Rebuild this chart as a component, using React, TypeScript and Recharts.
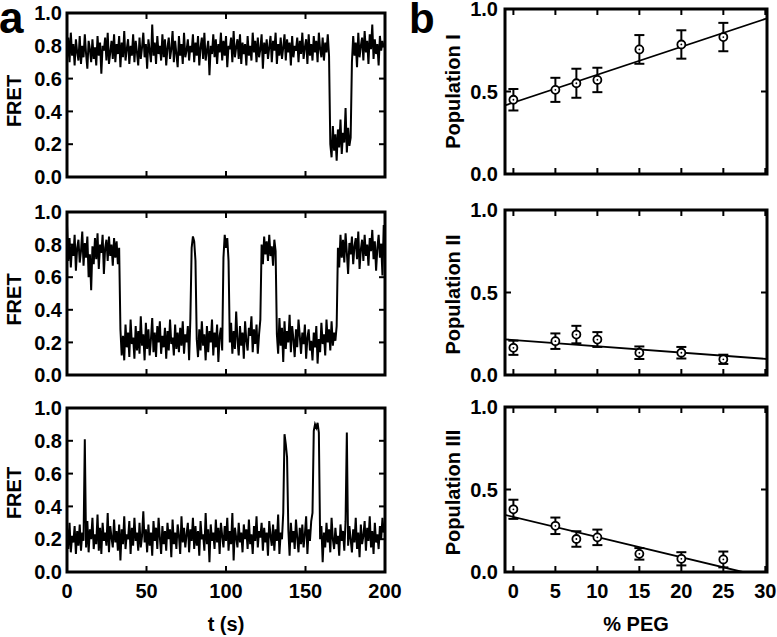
import React from 'react';
import { ComposedChart, Line, Scatter, XAxis, YAxis, ErrorBar, ReferenceArea } from 'recharts';

// ---------- data ----------
const TIME_STEP_S = 0.8; // sampling interval of the FRET traces
// FRET values x100
const TRACE_1 = [
  72, 85, 70, 88, 74, 81, 68, 84, 76, 71, 86, 69, 80, 73, 87, 75, 66, 83, 78, 70,
  84, 72, 79, 68, 86, 74, 82, 63, 80, 77, 85, 71, 88, 69, 76, 83, 72, 87, 70, 81,
  75, 86, 67, 82, 73, 89, 71, 78, 84, 69, 80, 74, 87, 70, 83, 76, 68, 85, 72, 79,
  88, 73, 81, 66, 84, 77, 70, 93, 74, 82, 69, 86, 75, 80, 71, 87, 73, 84, 68, 79,
  85, 72, 78, 89, 70, 83, 75, 67, 86, 74, 81, 69, 88, 73, 77, 84, 71, 80, 76, 87,
  70, 82, 74, 86, 68, 79, 85, 72, 88, 71, 77, 83, 62, 80, 75, 87, 73, 84, 69, 81,
  76, 88, 71, 83, 74, 86, 67, 80, 78, 85, 70, 89, 73, 79, 84, 72, 87, 69, 82, 75,
  81, 68, 86, 74, 80, 71, 88, 76, 83, 70, 85, 73, 78, 87, 66, 82, 75, 84, 72, 79,
  86, 70, 83, 77, 88, 69, 81, 74, 85, 72, 79, 87, 71, 84, 76, 82, 68, 86, 73, 80,
  77, 85, 70, 83, 75, 88, 72, 79, 84, 69, 87, 74, 81, 71, 86, 76, 83, 70, 88, 78,
  73, 85, 71, 82, 76, 87, 74,
  20, 12, 31, 16, 26, 10, 29, 18, 35, 14, 27, 21, 42, 15, 30, 19, 24,
  70, 86, 74, 82, 67, 88, 73, 80, 85, 71, 89, 76, 83, 69, 87, 78, 93, 72, 84, 75,
  81, 68, 86, 77, 83, 79,
];
const TRACE_2 = [
  92, 70, 84, 66, 80, 73, 86, 64, 78, 83, 69, 76, 88, 67, 81, 72, 85, 60, 74, 52,
  79, 68, 84, 71, 87, 65, 80, 75, 86, 62, 78, 83, 70, 85, 73, 80, 67, 84, 72, 82,
  68, 78,
  28, 12, 24, 9, 31, 17, 26, 11, 34, 19, 23, 10, 30, 15, 27, 13, 36, 18, 25, 9,
  32, 16, 28, 12, 22, 35, 14, 26, 11, 30, 20, 33, 13, 24, 17, 29, 10, 27, 15, 34,
  19, 23, 12, 31, 16, 26, 14, 29, 18, 33, 13, 25, 20, 30, 9, 35,
  78, 85, 82, 70,
  22, 11, 28, 15, 33, 18, 25, 9, 30, 14, 27, 20, 34, 12, 26, 17, 31, 8, 24, 29, 15,
  72, 86, 78, 84, 70,
  20, 32, 13, 27, 16, 39, 22, 12, 30, 18, 26, 10, 33, 21, 15, 29, 24, 36, 14, 28,
  19, 31, 13, 25, 34,
  80, 68, 85, 74, 82, 70, 86, 73, 79, 67, 83, 76,
  25, 13, 35, 18, 29, 8, 33, 16, 27, 20, 37, 14, 30, 22, 11, 28, 17, 34, 24, 13,
  26, 19, 31, 10, 23, 28, 15, 21, 9, 26, 17, 30, 7, 22, 14, 32, 19, 25, 12, 34,
  20, 28, 15, 33, 18, 26, 21, 30,
  78, 66, 86, 72, 83, 69, 87, 75, 62, 81, 74, 85, 68, 79, 84, 71, 88, 65, 77, 83,
  70, 86, 73, 80, 67, 84, 76, 89, 71, 82, 64, 78, 86, 72, 80, 61, 92,
];
const TRACE_3 = [
  27, 14, 30, 12, 22, 18, 28, 11, 25, 16, 29, 13, 24, 19, 81, 15, 31, 12, 26, 20,
  33, 14, 23, 17, 35, 13, 27, 11, 30, 19, 24, 16, 36, 12, 28, 21, 15, 32, 18, 25,
  13, 29, 7, 26, 17, 34, 14, 23, 20, 31, 11, 27, 16, 33, 19, 24, 13, 30, 15, 22,
  37, 18, 26, 12, 29, 16, 24, 10, 31, 19, 27, 14, 33, 21, 11, 28, 17, 25, 13, 30,
  20, 26, 9, 32, 17, 24, 14, 29, 22, 11, 34, 18, 27, 15, 23, 30, 12, 26, 19, 33,
  14, 28, 16, 25, 10, 31, 20, 23, 13, 36, 17, 26, 6, 29, 19, 24, 14, 32, 18, 27,
  11, 30, 22, 15, 28, 19, 33, 13, 25, 17, 36, 7, 27, 21, 15, 30, 18, 24, 12, 29,
  20, 26, 14, 32, 17, 23, 11, 28, 19, 34, 15, 25, 21, 30, 13, 27, 18, 24, 10, 31,
  22, 16, 29, 13, 26, 19, 35, 11, 24, 20, 36, 84, 78, 70, 26, 10, 30, 18, 25, 14,
  32, 21, 12, 27, 17, 29, 15, 23, 34, 11, 26, 19, 31, 36, 86, 90, 88, 91, 85, 20,
  28, 6, 24, 15, 30, 18, 26, 12, 33, 20, 14, 27, 17, 22, 10, 29, 19, 25, 13, 31,
  85, 16, 28, 20, 12, 26, 18, 33, 14, 24, 9, 29, 17, 22, 31, 13, 27, 19, 34, 15,
  25, 11, 30, 18, 23, 14, 28, 20, 33, 24,
];

const TIME_TICKS = [0, 50, 100, 150, 200];
const FRET_TICKS = [0, 0.2, 0.4, 0.6, 0.8, 1.0];
const PEG_TICKS = [0, 5, 10, 15, 20, 25, 30];
const POP_TICKS = [0, 0.5, 1.0];

const PEG = [0, 5, 7.5, 10, 15, 20, 25];
const POP_I = [0.45, 0.51, 0.55, 0.57, 0.755, 0.785, 0.83];
const ERR_I = [0.065, 0.073, 0.088, 0.074, 0.087, 0.086, 0.086];
const POP_II = [0.165, 0.205, 0.245, 0.215, 0.135, 0.135, 0.095];
const ERR_II = [0.043, 0.047, 0.053, 0.045, 0.038, 0.035, 0.028];
const POP_III = [0.38, 0.28, 0.2, 0.21, 0.11, 0.08, 0.076];
const ERR_III = [0.058, 0.05, 0.047, 0.047, 0.035, 0.04, 0.048];

// linear fit endpoints [x, y]
const FIT_I = [[-1, 0.416], [30.2, 0.943]];
const FIT_II = [[-1, 0.216], [30.2, 0.097]];
const FIT_III = [[-1, 0.346], [27.3, 0.0]];

// ---------- helpers ----------
const FONT_FAMILY = '"Liberation Sans", Arial, Helvetica, sans-serif';
const FONT: React.CSSProperties = { fontFamily: FONT_FAMILY, fontWeight: 700, fontSize: 20, fill: '#000' };
const MT = 16; // top margin
const MR = 24; // right margin
const TICK = 6;

const toTrace = (arr: number[]) => arr.map((v, i) => ({ x: +(i * TIME_STEP_S).toFixed(1), y: v / 100 }));
const toPoints = (ys: number[], es: number[]) => PEG.map((x, i) => ({ x, y: ys[i], e: es[i] }));
const toFit = (f: number[][]) => f.map(([x, y]) => ({ x, y }));

const Marker = (p: any) => (
  <g>
    <circle cx={p.cx} cy={p.cy} r={4} fill="#fff" stroke="#000" strokeWidth={1.8} />
    <circle cx={p.cx} cy={p.cy} r={0.9} fill="#000" />
  </g>
);

type PanelProps = {
  plotLeft: number; plotTop: number; plotW: number; plotH: number;
  yAxisW: number; xAxisH: number;
  xDomain: [number, number]; xTicks: number[]; yTicks: number[];
  showXLabels: boolean; labelGap: number;
  yTitle: string; yTitleX: number; yTitleDy: number;
  xTitle?: string;
  xFmt: (v: number) => string; yFmt: (v: number) => string;
  children: React.ReactNode;
};

function Panel(props: PanelProps) {
  const { plotLeft, plotTop, plotW, plotH, yAxisW, xAxisH, xDomain, xTicks, yTicks,
    showXLabels, labelGap, yTitle, yTitleX, yTitleDy, xTitle, xFmt, yFmt, children } = props;
  const width = yAxisW + plotW + MR;
  const height = MT + plotH + xAxisH;

  const yTick = (p: any) => {
    const { x, y, payload } = p;
    return (
      <g>
        <line x1={x} x2={x + TICK} y1={y} y2={y} stroke="#000" strokeWidth={2} />
        <line x1={x + plotW} x2={x + plotW - TICK} y1={y} y2={y} stroke="#000" strokeWidth={2} />
        <text x={x - labelGap} y={y} dy="0.36em" textAnchor="end" style={FONT}>{yFmt(payload.value)}</text>
      </g>
    );
  };
  const xTick = (p: any) => {
    const { x, y, payload } = p;
    return (
      <g>
        <line x1={x} x2={x} y1={y} y2={y - TICK} stroke="#000" strokeWidth={2} />
        <line x1={x} x2={x} y1={y - plotH} y2={y - plotH + TICK} stroke="#000" strokeWidth={2} />
        {showXLabels && (
          <text x={x} y={y + 26} textAnchor="middle" style={FONT}>{xFmt(payload.value)}</text>
        )}
      </g>
    );
  };
  const yLabel = (p: any) => {
    const vb = p.viewBox || { x: 0, y: MT, width: yAxisW, height: plotH };
    const cx = vb.x + yTitleX;
    const cy = vb.y + vb.height / 2 + yTitleDy;
    return (
      <text x={cx} y={cy} transform={`rotate(-90, ${cx}, ${cy})`} textAnchor="middle" dy="0.36em" style={FONT}>
        {yTitle}
      </text>
    );
  };
  const xLabel = (p: any) => {
    const vb = p.viewBox || { x: yAxisW, y: MT + plotH, width: plotW, height: xAxisH };
    return (
      <text x={vb.x + vb.width / 2} y={vb.y + 59} textAnchor="middle" style={FONT}>{xTitle}</text>
    );
  };

  return (
    <div style={{ position: 'absolute', left: plotLeft - yAxisW, top: plotTop - MT }}>
      <ComposedChart width={width} height={height} margin={{ top: MT, right: MR, bottom: 0, left: 0 }}>
        <XAxis type="number" dataKey="x" domain={xDomain} ticks={xTicks} interval={0} allowDataOverflow
          axisLine={false} tickLine={false} tickSize={0} tickMargin={0} height={xAxisH}
          tick={xTick} label={xTitle ? xLabel : undefined} />
        <YAxis type="number" domain={[0, 1]} ticks={yTicks} interval={0} allowDataOverflow
          axisLine={false} tickLine={false} tickSize={0} tickMargin={0} width={yAxisW}
          tick={yTick} label={yLabel} />
        {children}
        <ReferenceArea x1={xDomain[0]} x2={xDomain[1]} y1={0} y2={1} fill="none" fillOpacity={0}
          stroke="#000" strokeWidth={3} ifOverflow="visible" />
      </ComposedChart>
    </div>
  );
}

const traceLine = (arr: number[]) => (
  <Line data={toTrace(arr)} dataKey="y" type="linear" dot={false} activeDot={false}
    stroke="#000" strokeWidth={2} strokeLinejoin="miter" isAnimationActive={false} />
);

const popSeries = (ys: number[], es: number[], fit: number[][]) => [
  <Line key="fit" data={toFit(fit)} dataKey="y" type="linear" dot={false} activeDot={false}
    stroke="#000" strokeWidth={1.8} isAnimationActive={false} />,
  <Scatter key="pts" data={toPoints(ys, es)} dataKey="y" shape={Marker} isAnimationActive={false}>
    <ErrorBar dataKey="e" direction="y" width={5} strokeWidth={2} stroke="#000" isAnimationActive={false} />
  </Scatter>,
];

const fmt1 = (v: number) => v.toFixed(1);
const fmt0 = (v: number) => String(v);

export default function App() {
  const left = { plotLeft: 67, plotW: 318, yAxisW: 67, xDomain: [0, 200] as [number, number],
    xTicks: TIME_TICKS, yTicks: FRET_TICKS, labelGap: 5, yTitle: 'FRET', yTitleX: 14, xFmt: fmt0, yFmt: fmt1 };
  const right = { plotLeft: 505, plotW: 262, yAxisW: 65, xDomain: [-1, 30.2] as [number, number],
    xTicks: PEG_TICKS, yTicks: POP_TICKS, labelGap: 7, yTitleX: 13, xFmt: fmt0, yFmt: fmt1 };
  return (
    <div style={{ position: 'absolute', left: 0, top: 0, width: 777, height: 637, background: '#fff', overflow: 'hidden' }}>
      <Panel {...left} plotTop={13} plotH={164} xAxisH={16} showXLabels={false} yTitleDy={6}>
        {traceLine(TRACE_1)}
      </Panel>
      <Panel {...left} plotTop={212} plotH={163} xAxisH={16} showXLabels={false} yTitleDy={6}>
        {traceLine(TRACE_2)}
      </Panel>
      <Panel {...left} plotTop={408} plotH={164} xAxisH={64} showXLabels={true} yTitleDy={3} xTitle="t (s)">
        {traceLine(TRACE_3)}
      </Panel>

      <Panel {...right} plotTop={9} plotH={165} xAxisH={16} showXLabels={false} yTitle="Population I" yTitleDy={0}>
        {popSeries(POP_I, ERR_I, FIT_I)}
      </Panel>
      <Panel {...right} plotTop={210} plotH={165} xAxisH={16} showXLabels={false} yTitle="Population II" yTitleDy={2}>
        {popSeries(POP_II, ERR_II, FIT_II)}
      </Panel>
      <Panel {...right} plotTop={407} plotH={165} xAxisH={64} showXLabels={true} yTitle="Population III" yTitleDy={3} xTitle="% PEG">
        {popSeries(POP_III, ERR_III, FIT_III)}
      </Panel>

      <svg width={777} height={637} style={{ position: 'absolute', left: 0, top: 0, pointerEvents: 'none' }}>
        <text x={-1} y={33} style={{ ...FONT, fontSize: 44 }}>a</text>
        <text x={409} y={33} style={{ ...FONT, fontSize: 42 }}>b</text>
      </svg>
    </div>
  );
}
